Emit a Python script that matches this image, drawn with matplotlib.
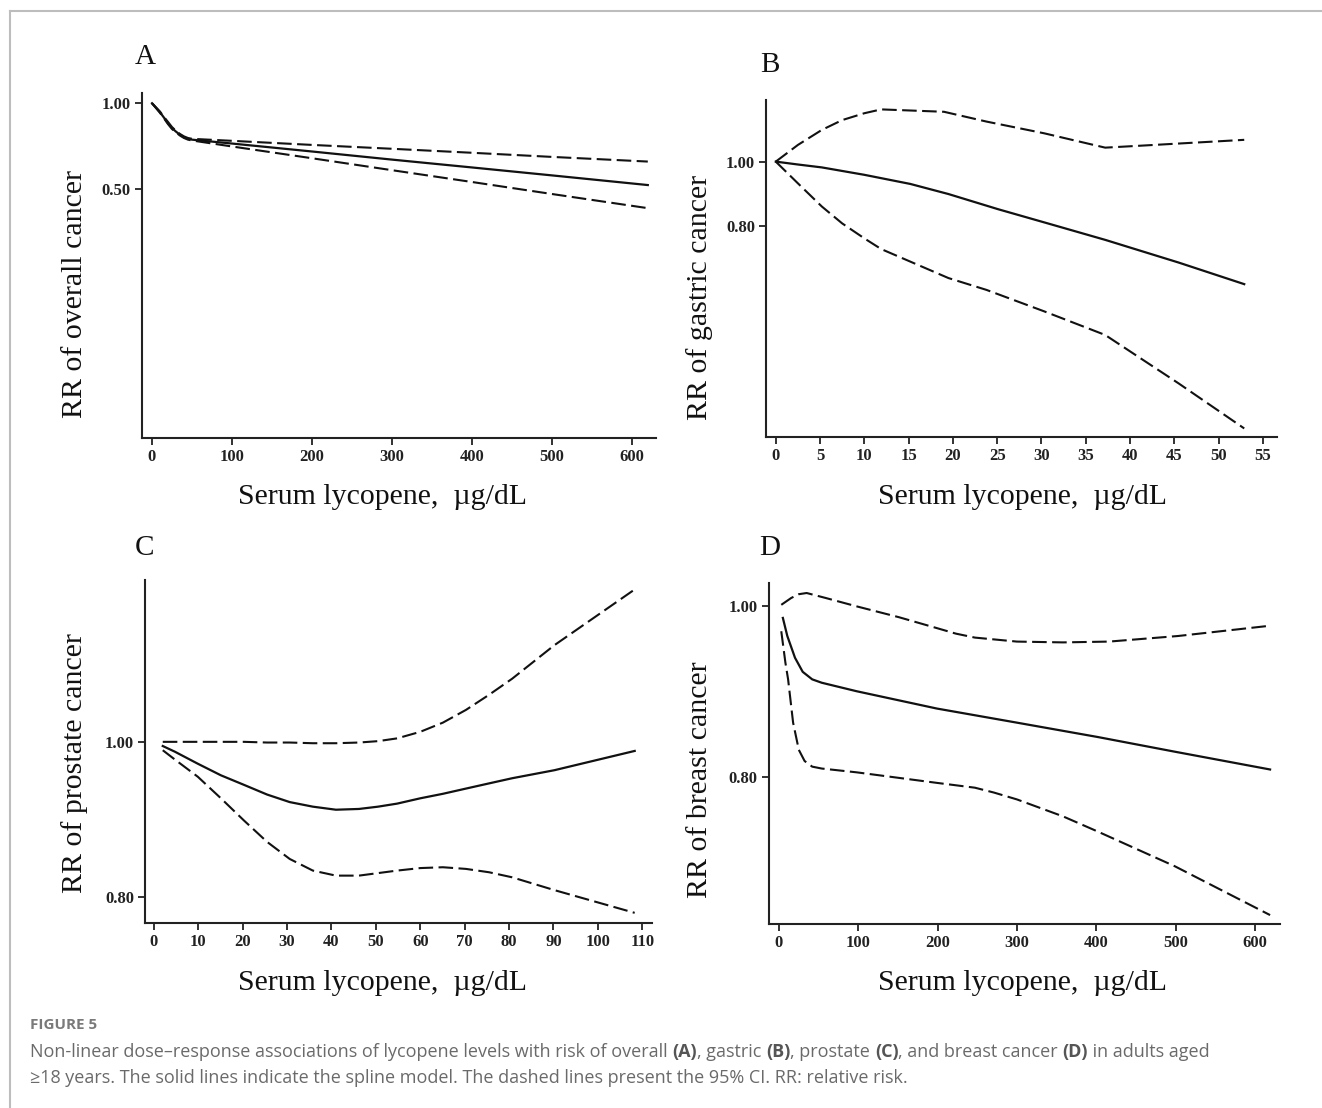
import matplotlib
matplotlib.use("Agg")
import matplotlib.pyplot as plt
from matplotlib.ticker import FixedLocator, NullLocator, FixedFormatter
from matplotlib.lines import Line2D

W, H = 1322, 1108
DPI = 100

# ---------------- data ----------------
# Panel A: overall cancer
a_x = [0, 5, 10, 15, 20, 25, 30, 35, 40, 45, 50, 100, 200, 300, 400, 500, 620]
a_rr = [1.0, 0.965, 0.93, 0.89, 0.85, 0.818, 0.795, 0.775, 0.76, 0.75, 0.745,
        0.722, 0.677, 0.634, 0.595, 0.558, 0.516]
a_hi = [1.0, 0.967, 0.935, 0.895, 0.86, 0.825, 0.80, 0.78, 0.765, 0.755, 0.75,
        0.738, 0.714, 0.692, 0.670, 0.648, 0.624]
a_lo = [1.0, 0.962, 0.925, 0.885, 0.845, 0.812, 0.79, 0.77, 0.755, 0.745, 0.74,
        0.705, 0.641, 0.582, 0.529, 0.480, 0.428]

# Panel B: gastric cancer
b_x = [0, 2.5, 5.2, 10, 15.2, 19.5, 25.1, 30.3, 37.2, 45.5, 52.9]
b_rr = [1.0, 0.99, 0.980, 0.955, 0.925, 0.893, 0.847, 0.809, 0.761, 0.703, 0.652]
b_hi_x = [0, 2.5, 5.2, 7.5, 10, 11.9, 19, 23.8, 30.3, 37.2, 41.1, 52.9]
b_hi = [1.0, 1.06, 1.117, 1.156, 1.184, 1.20, 1.19, 1.15, 1.104, 1.05, 1.057, 1.079]
b_lo_x = [0, 2.5, 5.2, 7.5, 10, 11.9, 19.5, 23.8, 30.3, 37.2, 45.5, 52.9]
b_lo = [1.0, 0.927, 0.855, 0.806, 0.765, 0.737, 0.666, 0.639, 0.593, 0.546, 0.461, 0.394]

# Panel C: prostate cancer
c_x = [2, 4.7, 9.9, 15.1, 20.3, 25.5, 30.6, 35.8, 41, 46.2, 50.5, 54.8, 60, 65.1,
       70.3, 75.5, 80.7, 90.2, 108.3]
c_rr = [0.994, 0.986, 0.969, 0.953, 0.940, 0.927, 0.917, 0.911, 0.907, 0.908, 0.911,
        0.915, 0.922, 0.928, 0.935, 0.942, 0.949, 0.960, 0.987]
c_hi = [1.0, 1.0, 1.0, 1.0, 1.0, 0.999, 0.999, 0.998, 0.998, 0.999, 1.001, 1.005,
        1.0145, 1.028, 1.047, 1.07, 1.095, 1.149, 1.245]
c_lo = [0.988, 0.975, 0.951, 0.922, 0.893, 0.866, 0.845, 0.831, 0.825, 0.825, 0.828,
        0.831, 0.834, 0.835, 0.833, 0.829, 0.823, 0.808, 0.782]

# Panel D: breast cancer
d_x = [5, 10.6, 20.3, 30, 42, 54, 98, 199, 300, 402, 499, 619]
d_rr = [0.985, 0.962, 0.935, 0.918, 0.909, 0.905, 0.895, 0.875, 0.859, 0.843, 0.827, 0.808]
d_hi_x = [3, 15.5, 25, 35, 44.4, 59, 98, 151, 199, 223, 247, 300, 358, 416, 503, 619]
d_hi = [1.002, 1.011, 1.016, 1.0176, 1.015, 1.011, 1.0, 0.986, 0.972, 0.965, 0.960,
        0.955, 0.954, 0.955, 0.962, 0.975]
d_lo_x = [3, 8.2, 11.6, 17.9, 25.1, 32.4, 42, 54, 98, 199, 247, 271, 300, 358, 402, 499, 619]
d_lo = [0.968, 0.929, 0.909, 0.859, 0.829, 0.817, 0.811, 0.809, 0.805, 0.794, 0.789,
        0.784, 0.777, 0.760, 0.745, 0.712, 0.668]

a_xticks = [0, 100, 200, 300, 400, 500, 600]
b_xticks = [0, 5, 10, 15, 20, 25, 30, 35, 40, 45, 50, 55]
c_xticks = [0, 10, 20, 30, 40, 50, 60, 70, 80, 90, 100, 110]
d_xticks = [0, 100, 200, 300, 400, 500, 600]
a_yticks = [1.00, 0.50]
b_yticks = [1.00, 0.80]
c_yticks = [1.00, 0.80]
d_yticks = [1.00, 0.80]

ylabels = ["RR of overall cancer", "RR of gastric cancer",
           "RR of prostate cancer", "RR of breast cancer"]
xlabel = "Serum lycopene,  \u00b5g/dL"
letters = ["A", "B", "C", "D"]

SERIF = "Liberation Serif"

fig = plt.figure(figsize=(W / DPI, H / DPI), dpi=DPI)
fig.patch.set_facecolor("white")


def rect(l, r, t, b):
    return [l / W, 1 - b / H, (r - l) / W, (b - t) / H]


def fx(px):
    return px / W


def fy(py):
    return 1 - py / H


panels = [
    dict(r=rect(141.6, 655.8, 93.3, 438.3), xlim=(-13, 630), ylim=(0.0665, 1.084),
         x=a_x, rr=a_rr, hx=a_x, hi=a_hi, lx=a_x, lo=a_lo, xt=a_xticks, yt=a_yticks,
         ylab=(75, 294), xlab=(382, 497), let=(145, 57)),
    dict(r=rect(766.2, 1277, 100, 437.3), xlim=(-1.08, 56.6), ylim=(0.382, 1.24),
         x=b_x, rr=b_rr, hx=b_hi_x, hi=b_hi, lx=b_lo_x, lo=b_lo, xt=b_xticks, yt=b_yticks,
         ylab=(700, 297), xlab=(1022, 497), let=(770, 65)),
    dict(r=rect(145, 652, 580, 922.7), xlim=(-2.0, 112.2), ylim=(0.771, 1.262),
         x=c_x, rr=c_rr, hx=c_x, hi=c_hi, lx=c_x, lo=c_lo, xt=c_xticks, yt=c_yticks,
         ylab=(75, 763), xlab=(382, 983), let=(145, 548)),
    dict(r=rect(768.9, 1279.6, 583, 924.3), xlim=(-12.6, 631), ylim=(0.660, 1.031),
         x=d_x, rr=d_rr, hx=d_hi_x, hi=d_hi, lx=d_lo_x, lo=d_lo, xt=d_xticks, yt=d_yticks,
         ylab=(700, 780), xlab=(1022, 983), let=(770, 548)),
]

LINE = "#111111"
for i, p in enumerate(panels):
    ax = fig.add_axes(p["r"])
    ax.set_yscale("log")
    ax.plot(p["x"], p["rr"], color=LINE, lw=1.6, solid_joinstyle="round")
    ax.plot(p["hx"], p["hi"], color=LINE, lw=1.5, dashes=(7, 2.6))
    ax.plot(p["lx"], p["lo"], color=LINE, lw=1.5, dashes=(7, 2.6))
    ax.set_xlim(*p["xlim"])
    ax.set_ylim(*p["ylim"])
    ax.spines["top"].set_visible(False)
    ax.spines["right"].set_visible(False)
    for s in ("left", "bottom"):
        ax.spines[s].set_linewidth(1.5)
        ax.spines[s].set_color("#222222")
    ax.xaxis.set_major_locator(FixedLocator(p["xt"]))
    ax.set_xticklabels([str(v) for v in p["xt"]])
    ax.yaxis.set_major_locator(FixedLocator(p["yt"]))
    ax.yaxis.set_major_formatter(FixedFormatter(["%.2f" % v for v in p["yt"]]))
    ax.yaxis.set_minor_locator(NullLocator())
    ax.xaxis.set_minor_locator(NullLocator())
    ax.tick_params(axis="both", which="major", direction="out", length=5, width=1.3,
                   color="#222222", labelsize=12, pad=3)
    for lab in ax.get_xticklabels() + ax.get_yticklabels():
        lab.set_fontfamily(SERIF)
        lab.set_fontweight("bold")
        lab.set_color("#222222")
    ax.set_facecolor("none")

    fig.text(fx(p["ylab"][0]), fy(p["ylab"][1]), ylabels[i], rotation=90,
             ha="center", va="center", fontsize=21.5, family=SERIF, color="#111111")
    fig.text(fx(p["xlab"][0]), fy(p["xlab"][1]), xlabel,
             ha="center", va="center", fontsize=21.5, family=SERIF, color="#111111")
    fig.text(fx(p["let"][0]), fy(p["let"][1]), letters[i],
             ha="center", va="center", fontsize=21, family=SERIF, color="#111111")

# frame lines (top and left)
fig.add_artist(Line2D([fx(10), 1.0], [fy(11), fy(11)], color="#bdbdbd", lw=1.5,
                      transform=fig.transFigure))
fig.add_artist(Line2D([fx(10), fx(10)], [fy(11), 0.0], color="#bdbdbd", lw=1.5,
                      transform=fig.transFigure))

# caption
CAP = "Open Sans"
fig.text(fx(30), fy(1025), "FIGURE 5", ha="left", va="center", fontsize=11,
         family=CAP, fontweight="bold", color="#7a7a7a")

renderer = fig.canvas.get_renderer()


def write_runs(runs, x0, ypx, size):
    x = x0
    for txt, bold in runs:
        t = fig.text(fx(x), fy(ypx), txt, ha="left", va="center", fontsize=size,
                     family=CAP, fontweight="bold" if bold else "normal",
                     color="#555555" if bold else "#6a6a6a")
        bb = t.get_window_extent(renderer=renderer)
        x += bb.width


line1 = [("Non-linear dose\u2013response associations of lycopene levels with risk of overall ", False),
         ("(A)", True), (", gastric ", False), ("(B)", True), (", prostate ", False),
         ("(C)", True), (", and breast cancer ", False), ("(D)", True), (" in adults aged", False)]
line2 = [("\u226518 years. The solid lines indicate the spline model. The dashed lines present the 95% CI. RR: relative risk.", False)]
write_runs(line1, 30, 1052, 13.0)
write_runs(line2, 30, 1078, 13.0)

fig.savefig("out.png", dpi=DPI, facecolor="white")
